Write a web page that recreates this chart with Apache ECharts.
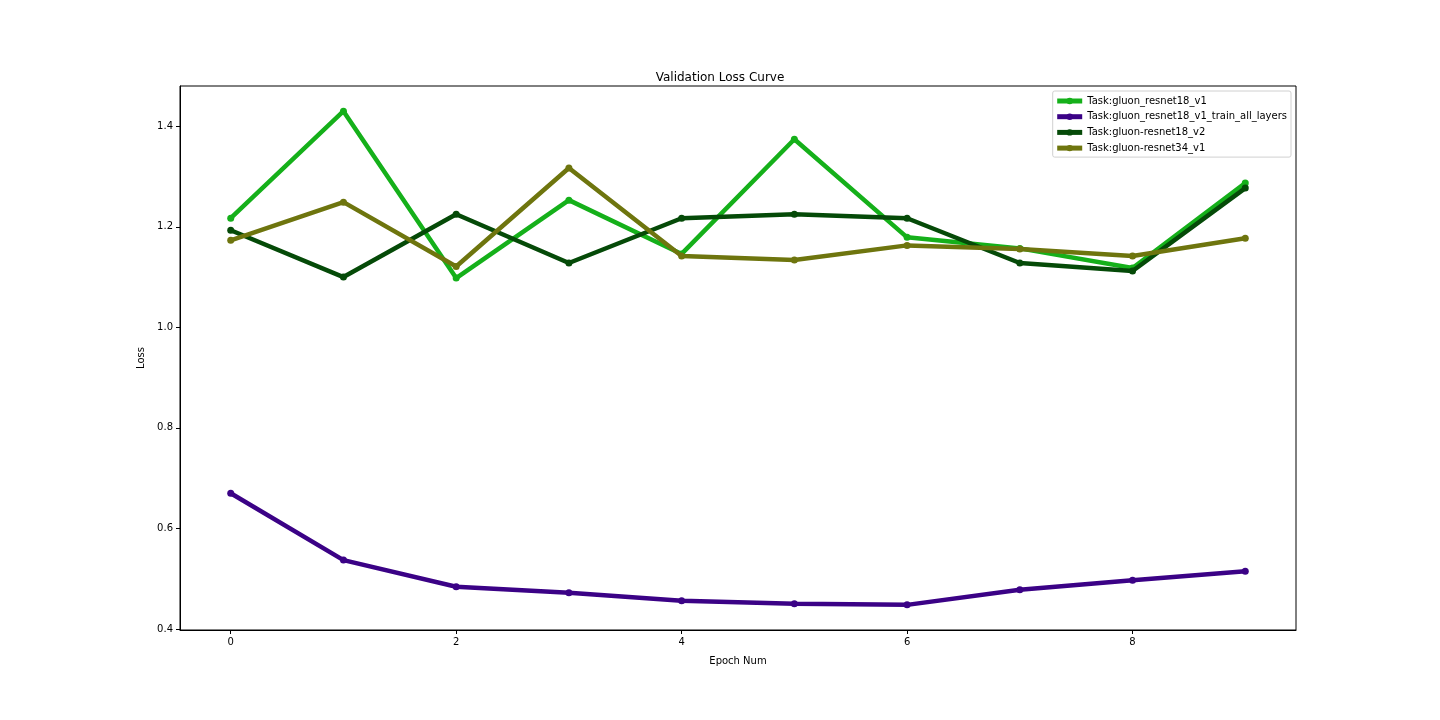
<!DOCTYPE html>
<html><head><meta charset="utf-8">
<script src="https://cdn.jsdelivr.net/npm/echarts@6/dist/echarts.min.js"></script>
<style>html,body{margin:0;padding:0;background:#fff}#c{width:1440px;height:720px}</style>
</head><body><div id="c"></div>
<script>
const epochs = [0,1,2,3,4,5,6,7,8,9];
const seriesNames = ['Task:gluon_resnet18_v1','Task:gluon_resnet18_v1_train_all_layers','Task:gluon-resnet18_v2','Task:gluon-resnet34_v1'];
const resnet18v1 = [1.217,1.430,1.098,1.253,1.146,1.374,1.179,1.157,1.118,1.287];
const resnet18v1All = [0.670,0.537,0.484,0.472,0.456,0.450,0.448,0.478,0.497,0.515];
const resnet18v2 = [1.193,1.100,1.225,1.128,1.217,1.225,1.217,1.128,1.112,1.277];
const resnet34v1 = [1.173,1.249,1.121,1.317,1.142,1.134,1.163,1.156,1.142,1.177];
const xTicks = [0,2,4,6,8];
const yTicks = [0.4,0.6,0.8,1.0,1.2,1.4];
const colors = ['#15b01a','#3b0286','#054a08','#6e750e'];
const values = [resnet18v1,resnet18v1All,resnet18v2,resnet34v1];

const font = 'DejaVu Sans';
const chart = echarts.init(document.getElementById('c'));
chart.setOption({
  animation:false,
  backgroundColor:'#fff',
  title:{text:'Validation Loss Curve',left:'center',top:67,
    textStyle:{fontFamily:font,fontSize:12,fontWeight:'normal',color:'#000'}},
  grid:{left:180,right:144,top:86,bottom:90,show:true,borderColor:'#000',borderWidth:1},
  legend:{orient:'vertical',right:149,top:91,align:'left',
    borderColor:'#d0d0d0',borderWidth:1,borderRadius:2,padding:[5,4,4,2],itemGap:5.7,
    itemWidth:25,itemHeight:8,
    lineStyle:{width:5},
    textStyle:{fontFamily:font,fontSize:10,color:'#000'},
    data:seriesNames},
  xAxis:{type:'value',min:-0.45,max:9.45,name:'Epoch Num',nameLocation:'middle',nameGap:26,
    nameTextStyle:{fontFamily:font,fontSize:10,color:'#000'},
    axisLine:{show:true,onZero:false,lineStyle:{color:'#000'}},
    axisTick:{show:true,customValues:xTicks,length:4,lineStyle:{color:'#000'}},
    axisLabel:{customValues:xTicks,fontFamily:font,fontSize:10,color:'#000',margin:7},
    splitLine:{show:false}},
  yAxis:{type:'value',min:0.398,max:1.48,name:'Loss',nameLocation:'middle',nameGap:32,
    nameTextStyle:{fontFamily:font,fontSize:10,color:'#000'},
    axisLine:{show:true,onZero:false,lineStyle:{color:'#000'}},
    axisTick:{show:true,customValues:yTicks,length:4,lineStyle:{color:'#000'}},
    axisLabel:{customValues:yTicks,fontFamily:font,fontSize:10,color:'#000',margin:7,
      formatter:v=>v.toFixed(1)},
    splitLine:{show:false}},
  series:values.map((vals,i)=>({
    name:seriesNames[i],type:'line',
    data:epochs.map((e,j)=>[e,vals[j]]),
    symbol:'circle',symbolSize:7,showSymbol:true,
    lineStyle:{width:4.5,color:colors[i]},
    itemStyle:{color:colors[i]},
    z:2+i
  }))
});
</script></body></html>
